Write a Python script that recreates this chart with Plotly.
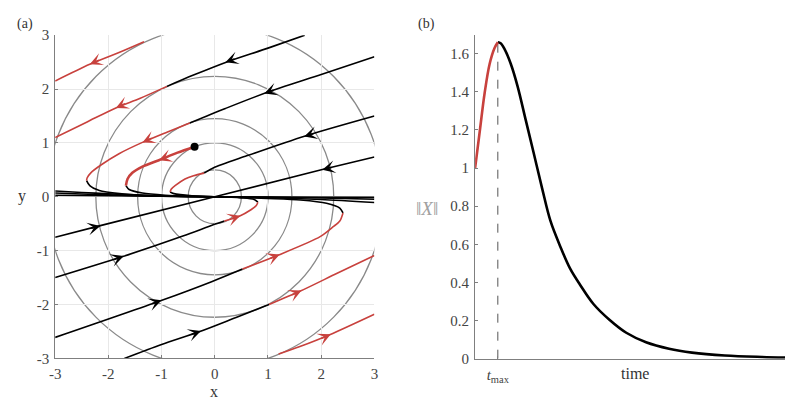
import plotly.graph_objects as go

# ---------------- panel (a): phase portrait ----------------
circle_radii = [0.5, 1.0, 1.45, 2.236, 3.16]

# trajectories, split into black (norm decreasing) and red (norm increasing) parts
black_paths = {
    "a_entry": ([-3.0, -2.5, -2.0, -1.5, -1.0, -0.5, 0.0], [0.107, 0.08, 0.056, 0.036, 0.019, 0.007, 0.0]),
    "t1_in": ([1.69, 1.0, 0.215, -0.4, -0.9], [3.0, 2.76, 2.50, 2.26, 2.05]),
    "t1_entry": ([-3.0, -2.5, -2.0, -1.5, -1.0, -0.5, 0.0], [0.071, 0.052, 0.036, 0.022, 0.011, 0.004, 0.0]),
    "slow": ([-3.0, 0.0, 3.0], [0.03, 0.0, -0.01]),
    "t2_in": ([3.0, 2.0, 0.96, 0.2, -0.47], [2.6, 2.27, 1.93, 1.64, 1.37]),
    "t2_out": ([-2.41, -2.35, -2.17, -1.79, -1.30, -0.8, -0.3, 0.0], [0.30, 0.207, 0.118, 0.059, 0.025, 0.01, 0.003, 0.0]),
    "dot_out": ([-1.67, -1.61, -1.36, -0.93, -0.5, 0.0], [0.207, 0.135, 0.07, 0.029, 0.01, 0.0]),
    "t3_in": ([3.0, 1.7, 0.6, -0.03, -0.2], [1.5, 1.13, 0.76, 0.535, 0.44]),
    "t3_out": ([-0.84, -0.77, -0.43, 0.0], [0.09, 0.059, 0.018, 0.0]),
    "fast_pos": ([3.0, 2.04, 0.0], [0.74, 0.51, 0.0]),
    "fast_neg": ([-3.0, -2.17, 0.0], [-0.75, -0.54, 0.0]),
    "t3b_in": ([-3.0, -1.73, -0.6, -0.03, 0.18], [-1.5, -1.11, -0.73, -0.52, -0.45]),
    "t3b_out": ([0.81, 0.74, 0.49, 0.0], [-0.10, -0.05, -0.02, 0.0]),
    "t2b_in": ([-3.0, -1.02, -0.06, 0.52], [-2.61, -1.93, -1.575, -1.34]),
    "t2b_out": ([2.41, 2.35, 2.10, 1.61, 0.99, 0.5, 0.0], [-0.30, -0.21, -0.12, -0.06, -0.03, -0.01, 0.0]),
    "t1b_in": ([-1.70, -1.0, -0.28, 0.4, 1.02], [-3.0, -2.74, -2.50, -2.24, -2.0]),
    "t1b_entry": ([3.0, 2.0, 1.0, 0.0], [-0.045, -0.02, -0.006, 0.0]),
    "ab_entry": ([3.0, 2.0, 1.0, 0.0], [-0.107, -0.05, -0.015, 0.0]),
}

red_paths = {
    "a": ([-1.33, -1.8, -2.35, -3.0], [2.88, 2.68, 2.46, 2.15]),
    "t1": ([-0.9, -1.4, -1.86, -2.4, -3.0], [2.05, 1.83, 1.65, 1.39, 1.10]),
    "t2": ([-0.47, -0.9, -1.36, -1.8, -2.14, -2.33, -2.40, -2.41], [1.37, 1.2, 1.01, 0.80, 0.59, 0.445, 0.35, 0.30]),
    "t3": ([-0.2, -0.4, -0.56, -0.74, -0.82, -0.84], [0.44, 0.39, 0.33, 0.21, 0.14, 0.09]),
    "t3b": ([0.18, 0.46, 0.68, 0.78, 0.81], [-0.45, -0.36, -0.24, -0.16, -0.10]),
    "t2b": ([0.52, 1.2, 1.98, 2.22, 2.35, 2.41], [-1.34, -1.08, -0.74, -0.56, -0.45, -0.30]),
    "t1b": ([1.02, 1.61, 2.3, 3.0], [-2.0, -1.75, -1.42, -1.09]),
    "ab": ([1.2, 1.6, 2.16, 3.0], [-2.92, -2.78, -2.56, -2.18]),
}

# highlighted trajectory starting at the dot
dot_x = [-0.38]
dot_y = [0.93]
dot_red_x = [-0.38, -0.7, -1.05, -1.36, -1.55, -1.64, -1.67]
dot_red_y = [0.93, 0.82, 0.68, 0.56, 0.445, 0.33, 0.207]

# arrows: (tip x, tip y, tail x, tail y, colour key)
arrows = [
    (-2.35, 2.46, -2.15, 2.545, "red"),
    (0.2, 2.5, 0.4, 2.57, "black"),
    (-1.86, 1.65, -1.66, 1.74, "red"),
    (0.93, 1.92, 1.13, 1.99, "black"),
    (-1.36, 1.01, -1.16, 1.10, "red"),
    (1.68, 1.12, 1.88, 1.18, "black"),
    (2.02, 0.50, 2.22, 0.55, "black"),
    (-1.05, 0.68, -0.85, 0.755, "red"),
    (-2.15, -0.54, -2.35, -0.59, "black"),
    (-1.71, -1.10, -1.91, -1.17, "black"),
    (0.48, -0.35, 0.30, -0.41, "red"),
    (-1.0, -1.92, -1.2, -1.99, "black"),
    (1.22, -1.07, 1.02, -1.15, "red"),
    (-0.26, -2.49, -0.46, -2.56, "black"),
    (1.63, -1.74, 1.43, -1.83, "red"),
    (2.18, -2.55, 1.98, -2.64, "red"),
]

phase_ticks = [-3, -2, -1, 0, 1, 2, 3]
phase_labels = ["-3", "-2", "-1", "0", "1", "2", "3"]

# ---------------- panel (b): norm vs time ----------------
t_max = 0.712
rise_t = [0.0, 0.146, 0.30, 0.455, 0.61, 0.712]
rise_norm = [1.0, 1.193, 1.395, 1.546, 1.63, 1.66]
decay_t = [0.712, 0.80, 0.92, 1.12, 1.33, 1.59, 1.85, 2.105, 2.36, 2.67, 2.98, 3.29,
           3.71, 4.22, 4.74, 5.36, 6.08, 6.80, 7.83, 9.0, 10.0]
decay_norm = [1.66, 1.655, 1.625, 1.546, 1.43, 1.25, 1.07, 0.891, 0.724, 0.589, 0.472, 0.388,
              0.287, 0.203, 0.136, 0.086, 0.052, 0.032, 0.017, 0.009, 0.005]
norm_ticks = [0, 0.2, 0.4, 0.6, 0.8, 1.0, 1.2, 1.4, 1.6]

RED = '#c8413d'
BLACK = '#000000'
GRAY = '#8a8a8a'
FONT = 'Liberation Serif'

fig = go.Figure()

for key, (xs, ys) in black_paths.items():
    fig.add_trace(go.Scatter(x=xs, y=ys, mode='lines', xaxis='x', yaxis='y',
                             line=dict(color=BLACK, width=1.6, shape='spline', smoothing=0.8),
                             hoverinfo='skip', showlegend=False))

for key, (xs, ys) in red_paths.items():
    fig.add_trace(go.Scatter(x=xs, y=ys, mode='lines', xaxis='x', yaxis='y',
                             line=dict(color=RED, width=1.6, shape='spline', smoothing=0.8),
                             hoverinfo='skip', showlegend=False))

fig.add_trace(go.Scatter(x=dot_red_x, y=dot_red_y, mode='lines', xaxis='x', yaxis='y',
                         line=dict(color=RED, width=2.6, shape='spline', smoothing=0.8),
                         hoverinfo='skip', showlegend=False))
fig.add_trace(go.Scatter(x=dot_x, y=dot_y, mode='markers', xaxis='x', yaxis='y',
                         marker=dict(color=BLACK, size=8),
                         hoverinfo='skip', showlegend=False))

# panel (b)
fig.add_trace(go.Scatter(x=[t_max, t_max], y=[0, 1.7], mode='lines', xaxis='x2', yaxis='y2',
                         line=dict(color='#555555', width=1, dash='dash'),
                         hoverinfo='skip', showlegend=False))
fig.add_trace(go.Scatter(x=decay_t, y=decay_norm, mode='lines', xaxis='x2', yaxis='y2',
                         line=dict(color=BLACK, width=2.6, shape='spline', smoothing=1.0),
                         showlegend=False))
fig.add_trace(go.Scatter(x=rise_t, y=rise_norm, mode='lines', xaxis='x2', yaxis='y2',
                         line=dict(color=RED, width=2.6, shape='spline', smoothing=1.0),
                         showlegend=False))

shapes = []
for r in circle_radii:
    shapes.append(dict(type='circle', xref='x', yref='y', x0=-r, y0=-r, x1=r, y1=r,
                       line=dict(color=GRAY, width=1.3), layer='below'))

annotations = []
for tx, ty, sx, sy, col in arrows:
    c = RED if col == 'red' else BLACK
    annotations.append(dict(x=tx, y=ty, ax=sx, ay=sy, xref='x', yref='y', axref='x', ayref='y',
                            text='', showarrow=True, arrowhead=3, arrowsize=1.35,
                            arrowwidth=1.6, arrowcolor=c, standoff=0))

W, H = 793, 399
text_font = dict(family=FONT, size=14, color='#333333')
labels = [
    ('(a)', 1, 8, 'left', text_font),
    ('(b)', 407, 8, 'left', text_font),
    ('x', 203, 391, 'center', dict(family=FONT, size=16, color='#333333')),
    ('y', 8, 187, 'center', dict(family=FONT, size=16, color='#333333')),
    ('time', 629, 372, 'center', dict(family=FONT, size=16, color='#333333')),
    ('‖<i>X</i>‖', 418, 201, 'center', dict(family=FONT, size=19, color='#a0a0a0')),
]
for txt, px, py, anchor, f in labels:
    annotations.append(dict(text=txt, x=px / W, y=1 - py / H, xref='paper', yref='paper',
                            xanchor=anchor, yanchor='middle', showarrow=False, font=f))

tick_font = dict(family=FONT, size=15, color='#444444')
axis_common = dict(showline=True, linecolor='#7f7f7f', linewidth=1, ticks='inside',
                   ticklen=3, tickcolor='#7f7f7f', tickfont=tick_font, zeroline=False,
                   ticklabelstandoff=2)

fig.update_layout(
    width=W, height=H,
    margin=dict(l=0, r=0, t=0, b=0),
    paper_bgcolor='white', plot_bgcolor='white',
    font=dict(family=FONT),
    shapes=shapes,
    annotations=annotations,
    xaxis=dict(domain=[41.7 / W, 365 / W], range=[-3, 3], tickvals=phase_ticks,
               ticktext=phase_labels, showgrid=True, gridcolor='#e8e8e8', anchor='y',
               **axis_common),
    yaxis=dict(domain=[1 - 356.7 / H, 1 - 20 / H], range=[-3, 3], tickvals=phase_ticks,
               ticktext=phase_labels, showgrid=True, gridcolor='#e8e8e8', anchor='x',
               **axis_common),
    xaxis2=dict(domain=[467 / W, 790 / W], range=[0, 10], tickvals=[t_max],
                ticktext=['<i>t</i><sub>max</sub>'], showgrid=False, anchor='y2',
                **axis_common),
    yaxis2=dict(domain=[1 - 357 / H, 1 - 20 / H], range=[0, 1.697], tickvals=norm_ticks,
                showgrid=False, anchor='x2', **axis_common),
)

fig.write_html("out.html")
